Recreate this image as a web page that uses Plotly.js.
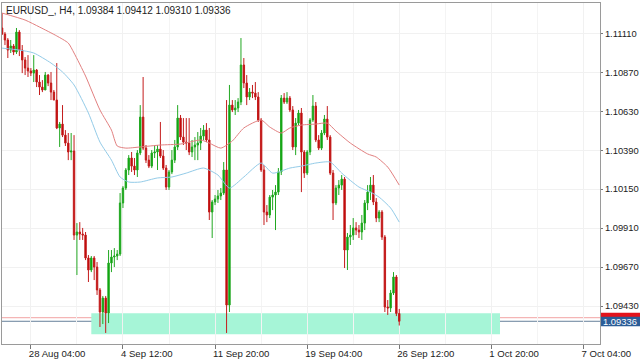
<!DOCTYPE html>
<html><head><meta charset="utf-8">
<script src="https://cdn.plot.ly/plotly-3.0.1.min.js"></script>
<style>html,body{margin:0;padding:0;background:#fff;}#chart{width:640px;height:360px;}</style>
</head><body><div id="chart"></div>
<script>
const headerText = 'EURUSD_, H4, 1.09384 1.09412 1.09310 1.09336';

const openP = [
1.11143,1.11106,1.11069,1.11007,1.11032,1.10995,1.11118,1.11007,1.10946,1.10896,
1.10878,1.10865,1.10884,1.10810,1.10779,1.10761,1.10853,1.10804,1.10748,1.10699,
1.10527,1.10551,1.10483,1.10434,1.10379,1.10385,1.09867,1.09886,1.09874,1.09867,
1.09726,1.09652,1.09726,1.09670,1.09529,1.09393,1.09479,1.09387,1.09695,1.09732,
1.09738,1.09750,1.10065,1.10157,1.10268,1.10342,1.10292,1.10268,1.10373,1.10594,
1.10403,1.10329,1.10292,1.10373,1.10379,1.10397,1.10354,1.10280,1.10163,1.10256,
1.10329,1.10410,1.10588,1.10471,1.10440,1.10434,1.10379,1.10410,1.10422,1.10434,
1.10477,1.10514,1.10453,1.10009,1.10071,1.10089,1.10108,1.10126,1.10268,1.09436,
1.10668,1.10638,1.10650,1.10687,1.10915,1.10804,1.10718,1.10748,1.10742,1.10718,
1.10576,1.10268,1.10009,1.09991,1.10101,1.10114,1.10132,1.10256,1.10711,1.10687,
1.10711,1.10638,1.10410,1.10557,1.10619,1.10379,1.10249,1.10379,1.10576,1.10662,
1.10453,1.10403,1.10496,1.10582,1.10471,1.10249,1.10065,1.10157,1.10175,1.10212,
1.09775,1.09855,1.09867,1.09911,1.09898,1.09886,1.09941,1.10065,1.10132,1.10175,
1.10071,1.09972,1.10009,1.09855,1.09424,1.09418,1.09510,1.09609,1.09384];

const highP = [
1.11235,1.11118,1.11081,1.11069,1.11044,1.11143,1.11130,1.11038,1.10964,1.10976,
1.10896,1.10976,1.10890,1.10853,1.10822,1.10872,1.10859,1.10872,1.10761,1.10927,
1.10564,1.10668,1.10514,1.10496,1.10496,1.10483,1.09941,1.09947,1.09911,1.09886,
1.09744,1.09738,1.09738,1.09701,1.09541,1.09492,1.09492,1.09775,1.09775,1.09787,
1.09775,1.10126,1.10169,1.10280,1.10360,1.10379,1.10342,1.10391,1.10668,1.10841,
1.10422,1.10360,1.10391,1.10422,1.10422,1.10564,1.10391,1.10299,1.10268,1.10391,
1.10453,1.10668,1.10607,1.10588,1.10588,1.10588,1.10453,1.10471,1.10502,1.10527,
1.10545,1.10557,1.10527,1.10083,1.10114,1.10145,1.10157,1.10317,1.10699,1.10792,
1.10699,1.10699,1.10711,1.11081,1.10958,1.10853,1.10773,1.10792,1.10810,1.10748,
1.10588,1.10299,1.10052,1.10114,1.10145,1.10175,1.10280,1.10730,1.10742,1.10748,
1.10724,1.10662,1.10588,1.10638,1.10650,1.10391,1.10391,1.10588,1.10730,1.10687,
1.10483,1.10514,1.10607,1.10662,1.10483,1.10268,1.10175,1.10206,1.10237,1.10225,
1.09880,1.09929,1.09972,1.09947,1.09929,1.09991,1.10083,1.10175,1.10225,1.10237,
1.10095,1.10021,1.10021,1.09867,1.09467,1.09529,1.09639,1.09621,1.09412];

const lowP = [
1.11100,1.11038,1.10958,1.10989,1.10976,1.10983,1.10970,1.10865,1.10853,1.10841,
1.10847,1.10810,1.10779,1.10730,1.10748,1.10761,1.10785,1.10699,1.10699,1.10520,
1.10410,1.10471,1.10416,1.10329,1.10329,1.09837,1.09621,1.09837,1.09837,1.09713,
1.09578,1.09639,1.09590,1.09498,1.09301,1.09319,1.09264,1.09325,1.09639,1.09670,
1.09713,1.09738,1.10034,1.10145,1.10237,1.10256,1.10237,1.10225,1.10360,1.10391,
1.10311,1.10280,1.10280,1.10342,1.10268,1.10342,1.10268,1.10145,1.10145,1.10243,
1.10311,1.10391,1.10453,1.10422,1.10391,1.10360,1.10348,1.10329,1.10329,1.10391,
1.10453,1.10440,1.09960,1.09849,1.10052,1.10065,1.10083,1.10114,1.09264,1.09393,
1.10625,1.10607,1.10625,1.10668,1.10773,1.10668,1.10699,1.10711,1.10699,1.10564,
1.10256,1.09929,1.09947,1.09972,1.10021,1.09898,1.10114,1.10237,1.10675,1.10675,
1.10625,1.10391,1.10360,1.10545,1.10132,1.10219,1.10237,1.10360,1.10564,1.10440,
1.10391,1.10391,1.10483,1.10453,1.10237,1.09960,1.10052,1.10114,1.10145,1.09664,
1.09652,1.09806,1.09837,1.09867,1.09849,1.09837,1.09898,1.10021,1.10083,1.10052,
1.09947,1.09947,1.09837,1.09393,1.09375,1.09393,1.09498,1.09368,1.09310];

const closeP = [
1.11106,1.11069,1.11007,1.11032,1.10995,1.11118,1.11007,1.10946,1.10896,1.10878,
1.10865,1.10884,1.10810,1.10779,1.10761,1.10853,1.10804,1.10748,1.10699,1.10527,
1.10551,1.10483,1.10434,1.10379,1.10385,1.09867,1.09886,1.09874,1.09867,1.09726,
1.09652,1.09726,1.09670,1.09529,1.09393,1.09479,1.09387,1.09695,1.09732,1.09738,
1.09750,1.10065,1.10157,1.10268,1.10342,1.10292,1.10268,1.10373,1.10594,1.10403,
1.10329,1.10292,1.10373,1.10379,1.10397,1.10354,1.10280,1.10163,1.10256,1.10329,
1.10410,1.10588,1.10471,1.10440,1.10434,1.10379,1.10410,1.10422,1.10434,1.10477,
1.10514,1.10453,1.10009,1.10071,1.10089,1.10108,1.10126,1.10268,1.09436,1.10668,
1.10638,1.10650,1.10687,1.10915,1.10804,1.10718,1.10748,1.10742,1.10718,1.10576,
1.10268,1.10009,1.09991,1.10101,1.10114,1.10132,1.10256,1.10711,1.10687,1.10711,
1.10638,1.10410,1.10557,1.10619,1.10379,1.10249,1.10379,1.10576,1.10662,1.10453,
1.10403,1.10496,1.10582,1.10471,1.10249,1.10065,1.10157,1.10175,1.10212,1.09775,
1.09855,1.09867,1.09911,1.09898,1.09886,1.09941,1.10065,1.10132,1.10175,1.10071,
1.09972,1.10009,1.09855,1.09424,1.09418,1.09510,1.09609,1.09384,1.09336];

// bar index of each time label (H4 bars)
const xTickIdx = [10, 42, 74, 106, 138, 170, 202];
const xTickText = ['28 Aug 04:00', '4 Sep 12:00', '11 Sep 20:00', '19 Sep 04:00', '26 Sep 12:00', '1 Oct 20:00', '7 Oct 04:00'];
const yTickVals = [1.09430, 1.09670, 1.09910, 1.10150, 1.10390, 1.10630, 1.10870, 1.11110];

// moving averages (sampled along the bars)
const maSlowIdx = [0,8,13,19,23,25,29,34,38,40,43,48,55,62,69,72,76,80,84,90,93,97,100,104,109,113,116,121,127,130,134,138];
const maSlowVal = [1.11235,1.11192,1.11149,1.11094,1.11050,1.10989,1.10847,1.10638,1.10514,1.10416,1.10403,1.10410,1.10422,1.10428,1.10453,1.10434,1.10403,1.10447,1.10527,1.10576,1.10533,1.10496,1.10527,1.10545,1.10551,1.10557,1.10508,1.10434,1.10367,1.10348,1.10286,1.10175];
const maFastIdx = [0,6,11,17,21,25,30,34,38,41,44,48,54,59,64,70,75,79,84,90,94,100,104,109,114,118,124,128,131,135,138];
const maFastVal = [1.11019,1.11007,1.10989,1.10927,1.10872,1.10792,1.10619,1.10440,1.10329,1.10225,1.10194,1.10194,1.10219,1.10225,1.10249,1.10280,1.10237,1.10157,1.10225,1.10311,1.10249,1.10280,1.10292,1.10311,1.10317,1.10249,1.10163,1.10132,1.10101,1.10034,1.09947];

const askPrice = 1.09358;
const bidPrice = 1.09336;
const zoneBars = [31, 173];
const zonePrices = [1.09256, 1.09386];

const barIdx = openP.map((_, i) => i);
const minorIdx = xTickIdx.map(v => v + 16);

const traces = [
  {type:'scatter', mode:'lines', x: maSlowIdx, y: maSlowVal, line:{color:'#e28080', width:1, shape:'spline', smoothing:0.6}, hoverinfo:'skip'},
  {type:'scatter', mode:'lines', x: maFastIdx, y: maFastVal, line:{color:'#93cbe8', width:1, shape:'spline', smoothing:0.6}, hoverinfo:'skip'},
  {type:'candlestick', x: barIdx, open: openP, high: highP, low: lowP, close: closeP,
   increasing:{line:{color:'#22a822', width:1}, fillcolor:'#00a400'},
   decreasing:{line:{color:'#c41c1c', width:1}, fillcolor:'#bb0000'},
   whiskerwidth:0, hoverinfo:'skip'}
];

const layout = {
  width:640, height:360,
  margin:{l:2, r:40, t:3, b:16, pad:0},
  paper_bgcolor:'#ffffff', plot_bgcolor:'#ffffff',
  showlegend:false,
  font:{family:'Liberation Sans, Arial, sans-serif', size:10, color:'#222'},
  xaxis:{range:[-0.03, 207.75], tickmode:'array', tickvals:xTickIdx, ticktext:xTickText,
    ticklabelposition:'outside right', ticklabelshift:-3, ticks:'outside', ticklen:4, tickcolor:'#777',
    showgrid:true, gridcolor:'#f1f1f1', showline:true, linecolor:'#9a9a9a', mirror:true,
    zeroline:false, rangeslider:{visible:false}, fixedrange:true,
    tickfont:{size:9.6, color:'#222'},
    minor:{tickmode:'array', tickvals:minorIdx, showgrid:true, gridcolor:'#f4f4f4', ticks:''}},
  yaxis:{side:'right', range:[1.09196, 1.11297], tickmode:'array', tickvals:yTickVals,
    ticktext:yTickVals.map(v => v.toFixed(5)), ticks:'outside', ticklen:2, tickcolor:'#777',
    showgrid:true, gridcolor:'#f1f1f1', showline:true, linecolor:'#9a9a9a', mirror:true,
    zeroline:false, fixedrange:true, tickfont:{size:9.4, color:'#222'}},
  shapes:[
    {type:'rect', xref:'x', yref:'y', x0:zoneBars[0], x1:zoneBars[1], y0:zonePrices[0], y1:zonePrices[1],
     fillcolor:'#a6f5d7', line:{width:0}, layer:'below'},
    {type:'line', xref:'paper', yref:'y', x0:0, x1:1, y0:askPrice, y1:askPrice, line:{color:'#f2a2a2', width:1}, layer:'below'},
    {type:'line', xref:'paper', yref:'y', x0:0, x1:1, y0:bidPrice, y1:bidPrice, line:{color:'#66809a', width:1}, layer:'below'},
    {type:'rect', xref:'paper', yref:'y', x0:1.0017, x1:1.07, y0:askPrice - 0.00031, y1:askPrice + 0.00031,
     fillcolor:'#e3131b', line:{width:0}},
    {type:'rect', xref:'paper', yref:'y', x0:1.0017, x1:1.07, y0:bidPrice - 0.00031, y1:bidPrice + 0.00028,
     fillcolor:'#2b5d97', line:{width:0}}
  ],
  annotations:[
    {xref:'paper', yref:'paper', x:0.004, y:1, xanchor:'left', yanchor:'top', showarrow:false,
     text: headerText, font:{size:10, color:'#222'}},
    {xref:'paper', yref:'y', x:1.002, y:bidPrice, xanchor:'left', yanchor:'middle', showarrow:false,
     text: bidPrice.toFixed(5), font:{size:9.4, color:'#ffffff'}}
  ]
};

Plotly.newPlot('chart', traces, layout, {staticPlot:true, displayModeBar:false});
</script>
</body></html>
